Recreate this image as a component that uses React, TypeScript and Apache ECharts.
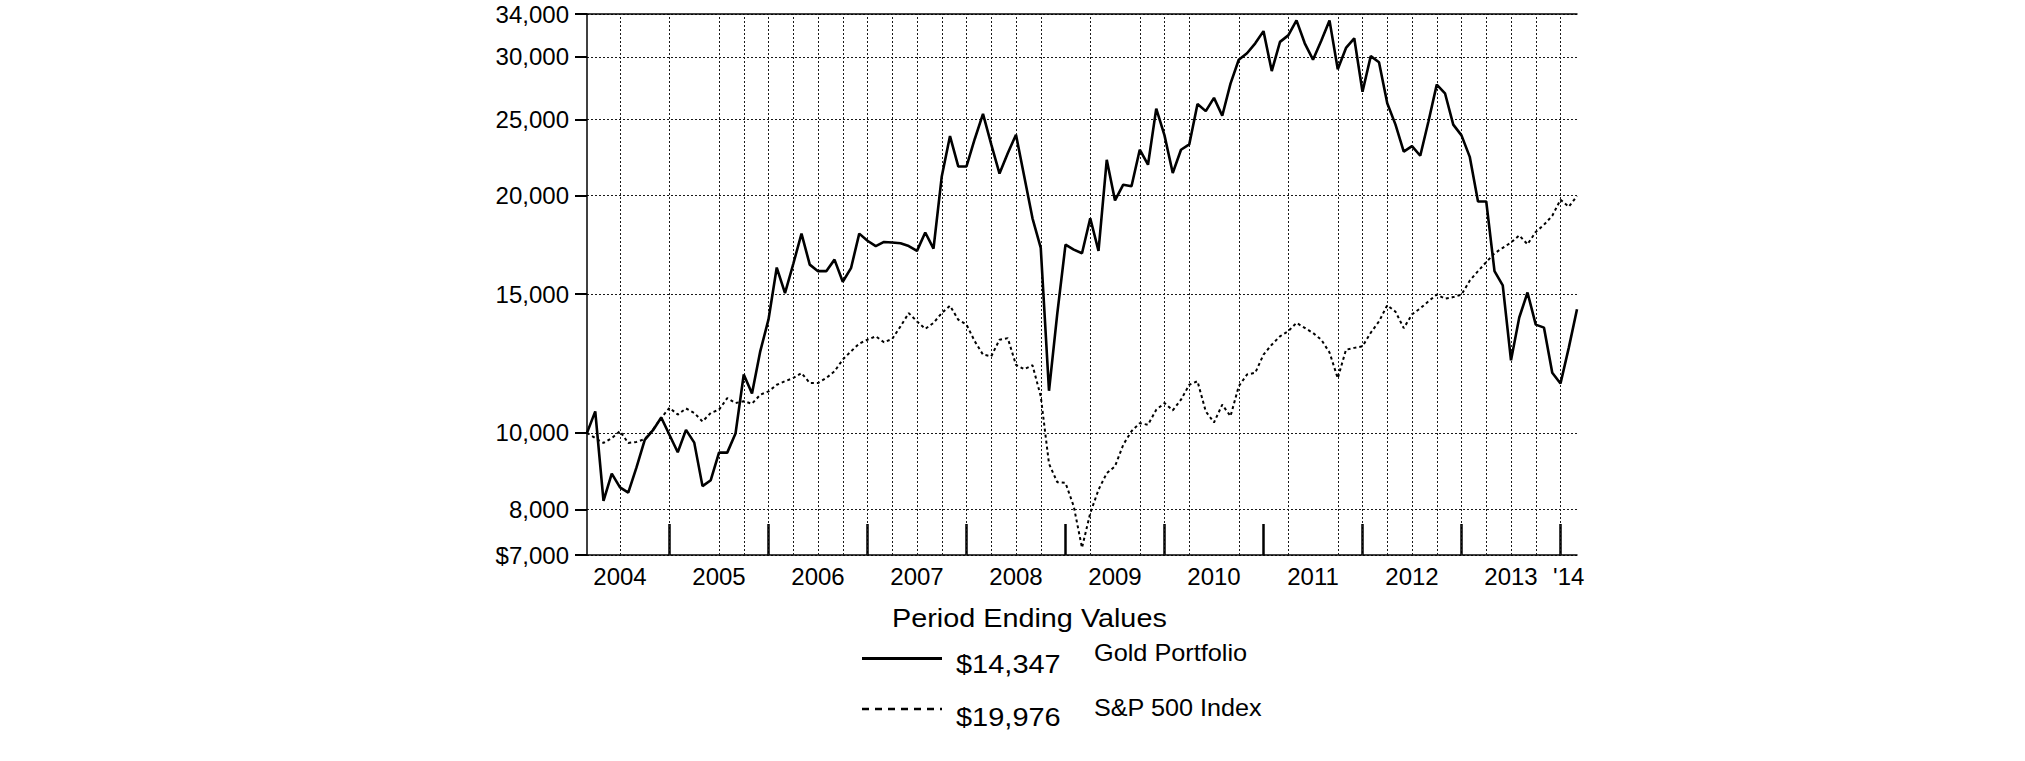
import React, { useEffect, useRef } from "react";
import * as echarts from "echarts";

// ---------- data ----------
const startYear = 2004;
const startMonth = 2; // February 2004, monthly period ends through February 2014
const monthCount = 121;
const months: string[] = Array.from({ length: monthCount }, (_, i) => {
  const m = startMonth - 1 + i;
  return `${startYear + Math.floor(m / 12)}-${String((m % 12) + 1).padStart(2, "0")}`;
});

const goldPortfolio = [
  10000, 10650, 8200, 8880, 8530, 8400, 9040, 9800, 10080, 10460,
  9940, 9450, 10090, 9720, 8560, 8710, 9440, 9440, 9980, 11860,
  11220, 12690, 13930, 16210, 15040, 16380, 17900, 16350, 16040, 16040,
  16590, 15550, 16180, 17900, 17530, 17260, 17470, 17440, 17400, 17260,
  17020, 17960, 17130, 21150, 23800, 21780, 21780, 23600, 25390, 23230,
  21330, 22630, 23900, 21150, 18720, 17170, 11310, 14160, 17330, 17080,
  16900, 18720, 17020, 22210, 19720, 20650, 20560, 22870, 21890, 25790,
  23850, 21370, 22870, 23230, 26140, 25600, 26610, 25260, 27740, 29750,
  30320, 31210, 32340, 28780, 31340, 31940, 33370, 31210, 29750, 31440,
  33370, 28930, 30790, 31670, 27090, 30060, 29530, 26190, 24610, 22750,
  23110, 22470, 24860, 27660, 26970, 24610, 23850, 22400, 19660, 19660,
  16040, 15390, 12360, 14010, 15070, 13720, 13600, 11920, 11550, 12820,
  14347,
];

const sp500Index = [
  10000, 9850, 9710, 9850, 10050, 9710, 9740, 9820, 10100, 10450,
  10760, 10550, 10740, 10600, 10340, 10600, 10700, 11070, 10910, 10970,
  10890, 11180, 11290, 11510, 11630, 11740, 11910, 11570, 11570, 11740,
  11970, 12390, 12690, 12980, 13130, 13260, 13030, 13160, 13650, 14190,
  13850, 13550, 13790, 14190, 14500, 13920, 13720, 13070, 12570, 12510,
  13130, 13190, 12200, 12045, 12185, 11130, 9140, 8660, 8640, 8070,
  7150, 7910, 8470, 8890, 9070, 9660, 10050, 10290, 10240, 10700,
  10910, 10680, 11020, 11510, 11630, 10650, 10310, 10860, 10500, 11460,
  11860, 11920, 12570, 12940, 13260, 13460, 13790, 13590, 13390, 13130,
  12650, 11730, 12750, 12820, 12880, 13400, 13850, 14520, 14250, 13580,
  14140, 14390, 14690, 14980, 14800, 14870, 14980, 15600, 16040, 16470,
  16900, 17170, 17440, 17810, 17350, 17990, 18370, 18860, 19760, 19360,
  19976,
];

const seriesNames = ["Gold Portfolio", "S&P 500 Index"];
const legendTitle = "Period Ending Values";

const yTickValues = [7000, 8000, 10000, 15000, 20000, 25000, 30000, 34000];
const yTickLabels = ["$7,000", "8,000", "10,000", "15,000", "20,000", "25,000", "30,000", "34,000"];

const yearTickIndices = [10, 22, 34, 46, 58, 70, 82, 94, 106, 118];
const yearLabelIndices = [4, 16, 28, 40, 52, 64, 76, 88, 100, 112, 119];
const yearLabels = ["2004", "2005", "2006", "2007", "2008", "2009", "2010", "2011", "2012", "2013", "'14"];
const gridLineIndices = [
  4, 10, 16, 19, 22, 25, 28, 31, 34, 37, 40, 43, 46, 49, 52, 55, 61, 67, 70, 73,
  79, 85, 91, 94, 97, 100, 103, 106, 109, 112, 115, 118,
];

const FONT = "'Liberation Sans', Arial, Helvetica, sans-serif";

function money(v: number): string {
  return "$" + v.toLocaleString("en-US");
}

function legendText(text: string, x: number, y: number, fontSize: number, scaleX: number) {
  return {
    type: "text",
    x,
    y,
    scaleX,
    silent: true,
    style: {
      text,
      fontSize,
      fontFamily: FONT,
      fill: "#000",
      textAlign: "left",
      verticalAlign: "middle",
      textVerticalAlign: "middle",
    },
  };
}

export default function App() {
  const ref = useRef<HTMLDivElement | null>(null);

  useEffect(() => {
    if (!ref.current) return;
    const chart = echarts.init(ref.current, null, { renderer: "svg" });
    const logTicks = yTickValues.map((v) => Math.log10(v));
    const gridLine = { color: "#1a1a1a", width: 1, type: [2, 2] as number[] };

    const option: any = {
      animation: false,
      backgroundColor: "#ffffff",
      grid: { left: 587, top: 14, width: 990, height: 541, containLabel: false },
      xAxis: [
        {
          type: "category",
          data: months,
          boundaryGap: false,
          axisLine: { show: true, lineStyle: { color: "#000", width: 1.5 } },
          axisTick: {
            show: true,
            inside: true,
            length: 31,
            interval: (i: number) => yearTickIndices.includes(i),
            lineStyle: { color: "#000", width: 2.5 },
          },
          axisLabel: {
            show: true,
            interval: (i: number) => yearLabelIndices.includes(i),
            formatter: (_v: string, i: number) => {
              const k = yearLabelIndices.indexOf(i);
              return k >= 0 ? yearLabels[k] : "";
            },
            fontSize: 24,
            fontFamily: FONT,
            color: "#000",
            margin: 9,
          },
          splitLine: { show: false },
        },
        {
          type: "category",
          data: months,
          boundaryGap: false,
          position: "top",
          axisLine: { show: true, lineStyle: { color: "#000", width: 1.5 } },
          axisTick: { show: false },
          axisLabel: { show: false },
          splitLine: { show: false },
        },
      ],
      yAxis: [
        { type: "log", logBase: 10, min: 7000, max: 34000, show: false },
        {
          type: "value",
          min: Math.log10(7000),
          max: Math.log10(34000),
          position: "left",
          axisLine: { show: true, onZero: false, lineStyle: { color: "#000", width: 1.5 } },
          axisTick: {
            show: true,
            customValues: logTicks,
            length: 12,
            lineStyle: { color: "#000", width: 2 },
          },
          axisLabel: {
            show: true,
            customValues: logTicks,
            formatter: (v: number) => {
              let best = 0;
              for (let k = 1; k < logTicks.length; k++) {
                if (Math.abs(logTicks[k] - v) < Math.abs(logTicks[best] - v)) best = k;
              }
              return yTickLabels[best];
            },
            fontSize: 24,
            fontFamily: FONT,
            color: "#000",
            margin: 18,
          },
          splitLine: { show: true, lineStyle: gridLine },
        },
      ],
      series: [
        {
          name: seriesNames[0],
          type: "line",
          xAxisIndex: 0,
          yAxisIndex: 0,
          data: goldPortfolio,
          symbol: "none",
          showSymbol: false,
          lineStyle: { color: "#000", width: 2.6 },
          z: 4,
        },
        {
          name: seriesNames[1],
          type: "line",
          xAxisIndex: 0,
          yAxisIndex: 0,
          data: sp500Index,
          symbol: "none",
          showSymbol: false,
          lineStyle: { color: "#000", width: 2, type: [3, 3] },
          z: 3,
          markLine: {
            silent: true,
            symbol: ["none", "none"],
            label: { show: false },
            emphasis: { disabled: true },
            lineStyle: gridLine,
            z: 1,
            data: gridLineIndices.map((i) => ({ xAxis: months[i] })),
          },
        },
      ],
      graphic: [
        legendText(legendTitle, 892, 618, 25.5, 1.13),
        {
          type: "line",
          silent: true,
          shape: { x1: 862, y1: 658.5, x2: 942, y2: 658.5 },
          style: { stroke: "#000", lineWidth: 3 },
        },
        legendText(money(goldPortfolio[goldPortfolio.length - 1]), 956, 664, 26, 1.115),
        legendText(seriesNames[0], 1094, 653, 24, 1.054),
        {
          type: "line",
          silent: true,
          shape: { x1: 862, y1: 709, x2: 942, y2: 709 },
          style: { stroke: "#000", lineWidth: 2.5, lineDash: [7, 6] },
        },
        legendText(money(sp500Index[sp500Index.length - 1]), 956, 717, 26, 1.115),
        legendText(seriesNames[1], 1094, 708, 24, 1.05),
      ],
    };

    chart.setOption(option);
    return () => {
      chart.dispose();
    };
  }, []);

  return (
    <div
      ref={ref}
      style={{ position: "fixed", left: 0, top: 0, width: 2025, height: 761, background: "#fff" }}
    />
  );
}
